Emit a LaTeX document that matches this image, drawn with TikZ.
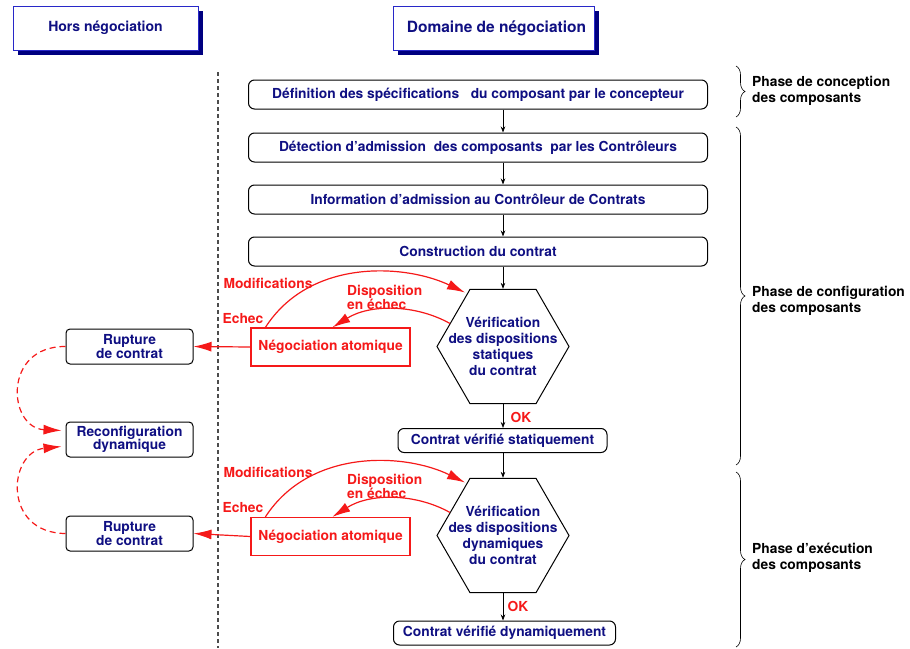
\documentclass[tikz,border=0pt]{standalone}
\usepackage{fontspec}
\setmainfont{TeX Gyre Heros}
\usetikzlibrary{arrows.meta,shapes.geometric,decorations.pathreplacing,calc,shadows}
\definecolor{navy}{RGB}{15,15,130}
\definecolor{rouge}{RGB}{245,25,25}
\definecolor{cadre}{RGB}{40,40,200}
\definecolor{ombre}{RGB}{0,0,128}
\begin{document}
\begin{tikzpicture}[x=1pt,y=-1pt,
  every node/.style={font=\fontsize{13.8}{14}\selectfont\bfseries},
  titre/.style={draw=cadre, line width=0.6pt, fill=white, text=navy,
    minimum width=185pt, minimum height=44pt, inner sep=0pt,
    font=\fontsize{15.5}{18}\selectfont\bfseries,
    drop shadow={shadow xshift=4.5pt, shadow yshift=-4.5pt, fill=ombre, opacity=1}},
  etape/.style={draw, rounded corners=6pt, line width=1pt, text=navy,
    minimum height=29pt, inner sep=0pt},
  gauche/.style={draw, rounded corners=4pt, line width=1pt, text=navy,
    minimum width=127pt, minimum height=35pt, inner sep=0pt, align=center,
    font=\fontsize{13.8}{13.5}\selectfont\bfseries},
  nego/.style={draw=rouge, line width=1.2pt, text=rouge,
    minimum width=159pt, minimum height=38pt, inner sep=0pt},
  hexa/.style={draw, line width=1pt, regular polygon, regular polygon sides=6,
    minimum size=132pt, inner sep=0pt},
  hextexte/.style={text=navy, align=center, font=\fontsize{13.8}{16}\selectfont\bfseries},
  lien/.style={-{Stealth[length=6pt,width=4.5pt]}, line width=0.7pt},
  rflech/.style={rouge, line width=1.2pt, -{Latex[length=18pt,width=10pt]}},
  rdash/.style={rflech, dash pattern=on 6pt off 4pt},
  etiq/.style={text=rouge},
  etiqbloc/.style={text=rouge, anchor=west, align=left, inner sep=0pt,
    font=\fontsize{13.8}{11.5}\selectfont\bfseries},
  phase/.style={anchor=west, align=left, inner sep=0pt,
    font=\fontsize{13.8}{16}\selectfont\bfseries},
  accolade/.style={decorate, decoration={brace, amplitude=9pt}, line width=0.6pt}]
\useasboundingbox (0,0) rectangle (910,648);

% column headers
\node[titre, font=\fontsize{14}{16}\selectfont\bfseries] (hors) at (105.5,28) {Hors négociation};
\node[titre, minimum width=201pt] (dom) at (493.5,28) {\hspace*{6pt}Domaine de négociation};

% separation between the two domains
\draw[black!70, dash pattern=on 4pt off 3pt, line width=1.2pt] (218,72) -- (218,648);

% main flow
\node[etape, minimum width=459pt] (b1) at (478,94.5) {Définition des spécifications \ \ du composant par le concepteur};
\node[etape, minimum width=459pt] (b2) at (478,147.5) {Détection d'admission \ des composants \ par les Contrôleurs};
\node[etape, minimum width=459pt] (b3) at (478,199.5) {Information d'admission au Contrôleur de Contrats};
\node[etape, minimum width=459pt] (b4) at (478,251.5) {Construction du contrat};

\node[hexa] (h1) at (503,346.5) {};
\node[hextexte] (t1) at (h1.center) {Vérification\\des dispositions\\statiques\\du contrat};
\node[etape, minimum width=209pt, minimum height=24pt] (c1) at (502.5,440.5) {Contrat vérifié statiquement};

\node[hexa] (h2) at (503,535.5) {};
\node[hextexte] (t2) at (h2.center) {Vérification\\des dispositions\\dynamiques\\du contrat};
\node[etape, minimum width=222pt, minimum height=24pt] (c2) at (504.5,633) {Contrat vérifié dynamiquement};

\draw[lien] (b1.south -| h1.center) -- (b2.north -| h1.center);
\draw[lien] (b2.south -| h1.center) -- (b3.north -| h1.center);
\draw[lien] (b3.south -| h1.center) -- (b4.north -| h1.center);
\draw[lien] (b4.south -| h1.center) -- (h1.north);
\draw[lien] (h1.south) -- (c1.north -| h1.center);
\draw[lien] (c1.south -| h1.center) -- (h2.north);
\draw[lien] (h2.south) -- (c2.north -| h2.center);
\node[etiq] (ok1) at (521,417) {OK};
\node[etiq] (ok2) at (518,606) {OK};

% atomic negotiation, static phase
\node[nego] (n1) at (330.5,347) {Négociation atomique};
\draw[rflech] ($(n1.north west)+(15,0)$) .. controls (310,258) and (405,264) .. ($(h1.center)+(-38,-54)$);
\draw[rflech] ($(h1.center)+(-53,-23)$) .. controls (415,304) and (370,304) .. ($(n1.north west)+(82,0)$);
\node[etiq] (m1) at (268,283) {Modifications};
\node[etiq] (e1) at (243,319) {Echec};
\node[etiqbloc] (d1) at (347,297.5) {Disposition\\en échec};

% atomic negotiation, dynamic phase
\node[nego] (n2) at (330.5,536.5) {Négociation atomique};
\draw[rflech] ($(n2.north west)+(15,0)$) .. controls (310,448) and (405,453) .. ($(h2.center)+(-38,-53)$);
\draw[rflech] ($(h2.center)+(-53,-23)$) .. controls (415,493) and (370,493) .. ($(n2.north west)+(82,0)$);
\node[etiq] (m2) at (268,472) {Modifications};
\node[etiq] (e2) at (243,508) {Echec};
\node[etiqbloc] (d2) at (347,486.5) {Disposition\\en échec};

% outside negotiation
\node[gauche] (r1) at (129.5,346.5) {Rupture\\de contrat};
\node[gauche] (rc) at (129.5,439.5) {Reconfiguration\\dynamique};
\node[gauche] (r2) at (129.5,533.5) {Rupture\\de contrat};

\draw[rflech] (n1.west) -- (r1.east);
\draw[rflech] (n2.west) -- (r2.east);
\draw[rdash] (r1.west) .. controls (2,346) and (8,428) .. ($(rc.west)+(-4,-9)$);
\draw[rdash] (r2.west) .. controls (2,533) and (8,452) .. ($(rc.west)+(-4,7)$);

% phases
\draw[accolade] (736,66) -- (736,117);
\node[phase] (p1) at (752,91) {Phase de conception\\des composants};
\draw[accolade] (736,127) -- (736,465);
\node[phase] (p2) at (752,300.5) {Phase de configuration\\des composants};
\draw[accolade] (736,472) -- (736,647);
\node[phase] (p3) at (752,558) {Phase d'exécution\\des composants};
\end{tikzpicture}
\end{document}
